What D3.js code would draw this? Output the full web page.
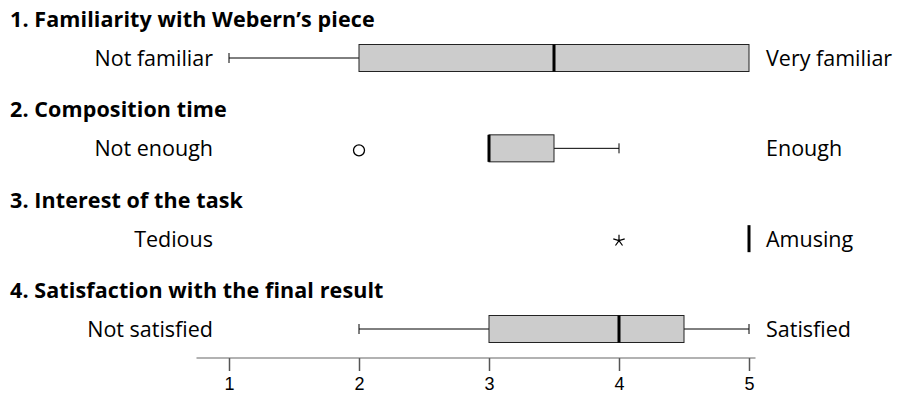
<!DOCTYPE html>
<html>
<head>
<meta charset="utf-8">
<script src="https://cdn.jsdelivr.net/npm/d3@7"></script>
<style>
  body { margin: 0; background: #fff; }
  .title { font-family: "Open Sans", sans-serif; font-weight: 700; font-size: 21.5px; fill: #000; letter-spacing: 0.1px; }
  .end { font-family: "Open Sans", sans-serif; font-size: 21.5px; fill: #000; }
</style>
</head>
<body>
<svg id="chart" width="897" height="394"></svg>
<script>
// one row per question
var questions = [
  "1. Familiarity with Webern\u2019s piece",
  "2. Composition time",
  "3. Interest of the task",
  "4. Satisfaction with the final result"
];
var leftLabels = ["Not familiar", "Not enough", "Tedious", "Not satisfied"];
var rightLabels = ["Very familiar", "Enough", "Amusing", "Satisfied"];

var whiskerLow = [1, 3, 5, 2];
var q1 = [2, 3, 5, 3];
var median = [3.5, 3, 5, 4];
var q3 = [5, 3.5, 5, 4.5];
var whiskerHigh = [5, 4, 5, 5];

// outliers: [row, value]
var outCircles = [[1, 2]];
var outStars = [[2, 4]];

var tickValues = [1, 2, 3, 4, 5];

var width = 897, height = 394;
var svg = d3.select("#chart");

var x = d3.scaleLinear().domain([1, 5]).range([229, 749]);
var y = d3.scalePoint().domain(d3.range(questions.length)).range([58, 329]);
var boxH = 27;

var rows = questions.map(function (q, i) {
  return { i: i, q: q, left: leftLabels[i], right: rightLabels[i],
    lo: whiskerLow[i], q1: q1[i], med: median[i], q3: q3[i], hi: whiskerHigh[i] };
});

// titles
svg.selectAll(".title").data(rows).enter().append("text")
  .attr("class", "title")
  .attr("x", 10)
  .attr("y", function (d) { return y(d.i) - 31; })
  .text(function (d) { return d.q; });

// end labels
svg.selectAll(".left").data(rows).enter().append("text")
  .attr("class", "end")
  .attr("x", 213)
  .attr("y", function (d) { return y(d.i) + 8; })
  .attr("text-anchor", "end")
  .text(function (d) { return d.left; });

svg.selectAll(".right").data(rows).enter().append("text")
  .attr("class", "end")
  .attr("x", 766)
  .attr("y", function (d) { return y(d.i) + 8; })
  .text(function (d) { return d.right; });

var g = svg.selectAll(".row").data(rows).enter().append("g").attr("class", "row");

// whiskers
g.filter(function (d) { return d.lo < d.q1; }).append("line")
  .attr("x1", function (d) { return x(d.lo); }).attr("x2", function (d) { return x(d.q1); })
  .attr("y1", function (d) { return y(d.i); }).attr("y2", function (d) { return y(d.i); })
  .attr("stroke", "#000").attr("stroke-width", 1);
g.filter(function (d) { return d.lo < d.q1; }).append("line")
  .attr("x1", function (d) { return x(d.lo); }).attr("x2", function (d) { return x(d.lo); })
  .attr("y1", function (d) { return y(d.i) - 5; }).attr("y2", function (d) { return y(d.i) + 5; })
  .attr("stroke", "#000").attr("stroke-width", 1);
g.filter(function (d) { return d.hi > d.q3; }).append("line")
  .attr("x1", function (d) { return x(d.q3); }).attr("x2", function (d) { return x(d.hi); })
  .attr("y1", function (d) { return y(d.i); }).attr("y2", function (d) { return y(d.i); })
  .attr("stroke", "#000").attr("stroke-width", 1);
g.filter(function (d) { return d.hi > d.q3; }).append("line")
  .attr("x1", function (d) { return x(d.hi); }).attr("x2", function (d) { return x(d.hi); })
  .attr("y1", function (d) { return y(d.i) - 5; }).attr("y2", function (d) { return y(d.i) + 5; })
  .attr("stroke", "#000").attr("stroke-width", 1);

// boxes
g.filter(function (d) { return d.q3 > d.q1; }).append("rect")
  .attr("x", function (d) { return x(d.q1); })
  .attr("width", function (d) { return x(d.q3) - x(d.q1); })
  .attr("y", function (d) { return y(d.i) - boxH / 2; })
  .attr("height", boxH)
  .attr("fill", "#cccccc").attr("stroke", "#222").attr("stroke-width", 1);

// medians
g.append("line")
  .attr("x1", function (d) { return x(d.med); }).attr("x2", function (d) { return x(d.med); })
  .attr("y1", function (d) { return y(d.i) - boxH / 2; }).attr("y2", function (d) { return y(d.i) + boxH / 2; })
  .attr("stroke", "#000").attr("stroke-width", 3);

// outliers
svg.selectAll(".outc").data(outCircles).enter().append("circle")
  .attr("cx", function (d) { return x(d[1]); })
  .attr("cy", function (d) { return y(d[0]) + 2; })
  .attr("r", 5.5)
  .attr("fill", "none").attr("stroke", "#000").attr("stroke-width", 1.3);

var asterisk5 = {
  draw: function (ctx, size) {
    var r = Math.sqrt(size) / 2;
    for (var k = 0; k < 5; k++) {
      var a = -Math.PI / 2 + k * 2 * Math.PI / 5;
      ctx.moveTo(0, 0);
      ctx.lineTo(r * Math.cos(a), r * Math.sin(a));
    }
  }
};
svg.selectAll(".outs").data(outStars).enter().append("path")
  .attr("transform", function (d) { return "translate(" + x(d[1]) + "," + (y(d[0]) + 2) + ")"; })
  .attr("d", d3.symbol().type(asterisk5).size(144))
  .attr("fill", "none").attr("stroke", "#000").attr("stroke-width", 1.2);

// axis
var axisY = 358;
var axis = svg.append("g")
  .attr("transform", "translate(0," + axisY + ")")
  .call(d3.axisBottom(x).tickValues(tickValues).tickSize(13).tickPadding(6).tickFormat(d3.format("d")));
axis.attr("font-family", "'Liberation Sans', Arial, sans-serif").attr("font-size", 18);
axis.select(".domain").remove();
axis.selectAll(".tick line").attr("stroke", "#555").attr("stroke-width", 1.5);
axis.selectAll(".tick text").attr("fill", "#000").style("font-size", "18px");
axis.append("line")
  .attr("x1", x(0.75)).attr("x2", x(5.05))
  .attr("stroke", "#666").attr("stroke-width", 1.2);
</script>
</body>
</html>
